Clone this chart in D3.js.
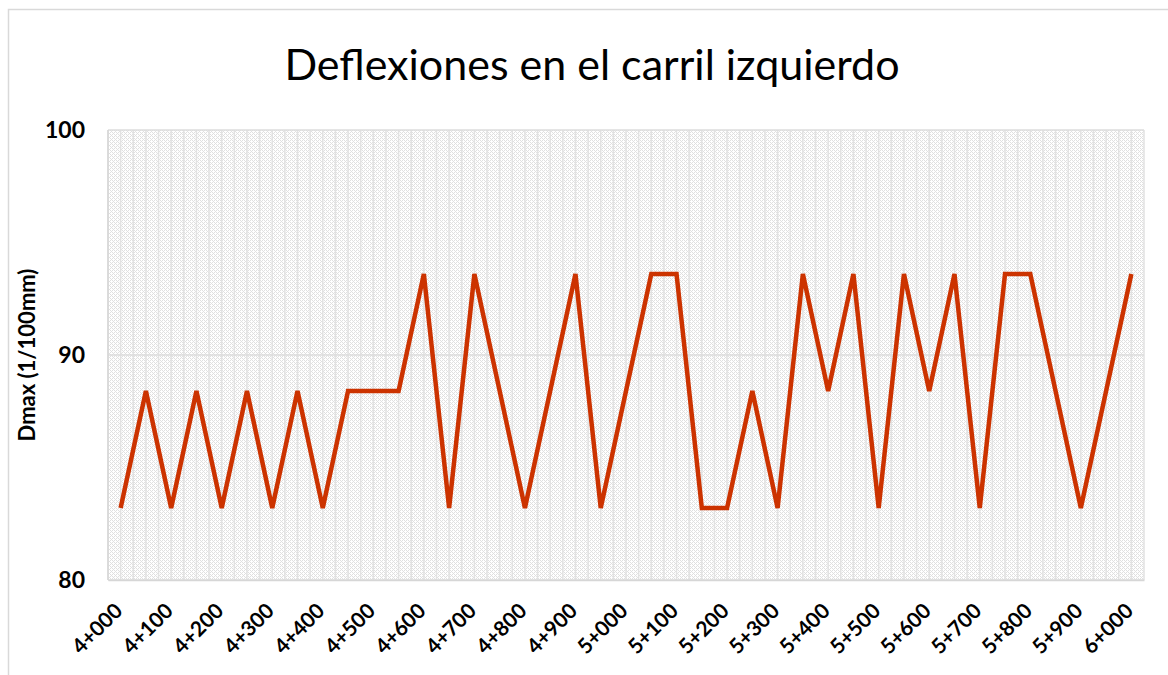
<!DOCTYPE html>
<html>
<head>
<meta charset="utf-8">
<script src="https://cdn.jsdelivr.net/npm/d3@7"></script>
<style>
  body { margin: 0; background: #fff; }
  text { font-family: Lato, "Open Sans", sans-serif; fill: #000; }
</style>
</head>
<body>
<div id="vis"></div>
<script>
// ************************** DATA **************************//

var stations = ["4+000","4+050","4+100","4+150","4+200","4+250","4+300","4+350","4+400","4+450",
  "4+500","4+550","4+600","4+650","4+700","4+750","4+800","4+850","4+900","4+950",
  "5+000","5+050","5+100","5+150","5+200","5+250","5+300","5+350","5+400","5+450",
  "5+500","5+550","5+600","5+650","5+700","5+750","5+800","5+850","5+900","5+950","6+000"];

var dmax = [83.2,88.4,83.2,88.4,83.2,88.4,83.2,88.4,83.2,88.4,
  88.4,88.4,93.6,83.2,93.6,88.4,83.2,88.4,93.6,83.2,
  88.4,93.6,93.6,83.2,83.2,88.4,83.2,93.6,88.4,93.6,
  83.2,93.6,88.4,93.6,83.2,93.6,93.6,88.4,83.2,88.4,93.6];

var yTicks = [80, 90, 100];

var title = "Deflexiones en el carril izquierdo";
var yTitle = "Dmax (1/100mm)";

// ************************** LAYOUT **************************//

var width = 1168, height = 675;
var margin = {left: 108, top: 130, right: 1168 - 1144, bottom: 675 - 580};

var svg = d3.select("#vis").append("svg")
  .attr("width", width)
  .attr("height", height);

// hatch fill like the excel plot area
var defs = svg.append("defs");
var pat = defs.append("pattern")
  .attr("id", "hatch")
  .attr("patternUnits", "userSpaceOnUse")
  .attr("width", 4).attr("height", 4);
pat.append("rect").attr("width", 4).attr("height", 4).attr("fill", "#fff");
[[0,0],[1,1],[2,2],[3,3],[2,0],[0,2]].forEach(function(p) {
  pat.append("rect").attr("x", p[0]).attr("y", p[1]).attr("width", 1).attr("height", 1).attr("fill", "#e0e0e0");
});

// chart border
svg.append("rect")
  .attr("x", 8.5).attr("y", 9.5)
  .attr("width", 1200).attr("height", 700)
  .attr("fill", "none")
  .attr("stroke", "#d9d9d9")
  .attr("stroke-width", 1.5);

// ************************** SCALES **************************//

var x = d3.scaleBand()
  .domain(stations)
  .range([margin.left, width - margin.right])
  .padding(0);

var y = d3.scaleLinear()
  .domain([80, 100])
  .range([height - margin.bottom, margin.top]);

var cx = function(d) { return x(d) + x.bandwidth() / 2; };

// ************************** PLOT AREA **************************//

svg.append("rect")
  .attr("x", margin.left)
  .attr("y", margin.top)
  .attr("width", x.range()[1] - margin.left)
  .attr("height", y(80) - margin.top)
  .attr("fill", "url(#hatch)");

// vertical gridlines at band edges and centers
var vlines = [];
stations.forEach(function(s) { vlines.push(x(s)); vlines.push(cx(s)); });
vlines.push(x.range()[1]);

svg.append("g")
  .selectAll("line")
  .data(vlines)
  .join("line")
  .attr("x1", d => d).attr("x2", d => d)
  .attr("y1", margin.top).attr("y2", y(80))
  .attr("stroke", "#e2e2e2")
  .attr("stroke-width", 1.5);

svg.append("g")
  .selectAll("line")
  .data(yTicks)
  .join("line")
  .attr("x1", margin.left).attr("x2", x.range()[1])
  .attr("y1", d => y(d)).attr("y2", d => y(d))
  .attr("stroke", "#dcdcdc")
  .attr("stroke-width", 1.5);

// plot outline (left side)
svg.append("line")
  .attr("x1", margin.left).attr("x2", margin.left)
  .attr("y1", margin.top).attr("y2", y(80))
  .attr("stroke", "#d6d6d6").attr("stroke-width", 1.5);

// ************************** AXES **************************//

var yAxis = svg.append("g")
  .attr("transform", `translate(${margin.left - 23},0)`)
  .call(d3.axisLeft(y).tickValues(yTicks).tickSize(0).tickPadding(0))
  .call(g => g.select(".domain").remove())
  .call(g => g.selectAll(".tick text")
    .attr("font-size", "23px")
    .attr("font-weight", "bold")
    .attr("fill", "#000"));

var xAxis = svg.append("g")
  .attr("transform", `translate(0,${y(80)})`)
  .call(d3.axisBottom(x).tickValues(stations.filter((d, i) => i % 2 === 0)).tickSize(0))
  .call(g => g.select(".domain").attr("stroke", "#d6d6d6").attr("stroke-width", 1.5))
  .call(g => g.selectAll(".tick text")
    .attr("font-size", "21px")
    .attr("font-weight", "bold")
    .attr("fill", "#000")
    .attr("text-anchor", "end")
    .attr("transform", "translate(-2,27) rotate(-45)")
    .attr("dy", "0.35em")
    .attr("y", 0));

// ************************** LINE **************************//

var line = d3.line()
  .x((d, i) => cx(stations[i]))
  .y(d => y(d));

svg.append("path")
  .datum(dmax)
  .attr("d", line)
  .attr("fill", "none")
  .attr("stroke", "#cc3300")
  .attr("stroke-width", 4.5)
  .attr("stroke-linejoin", "miter")
  .attr("stroke-linecap", "butt");

// ************************** TITLES **************************//

svg.append("text")
  .attr("x", 592)
  .attr("y", 80)
  .attr("text-anchor", "middle")
  .attr("font-size", "43px")
  .text(title);

svg.append("text")
  .attr("transform", "translate(35,355) rotate(-90)")
  .attr("text-anchor", "middle")
  .attr("font-size", "22px")
  .attr("font-weight", "bold")
  .text(yTitle);
</script>
</body>
</html>
